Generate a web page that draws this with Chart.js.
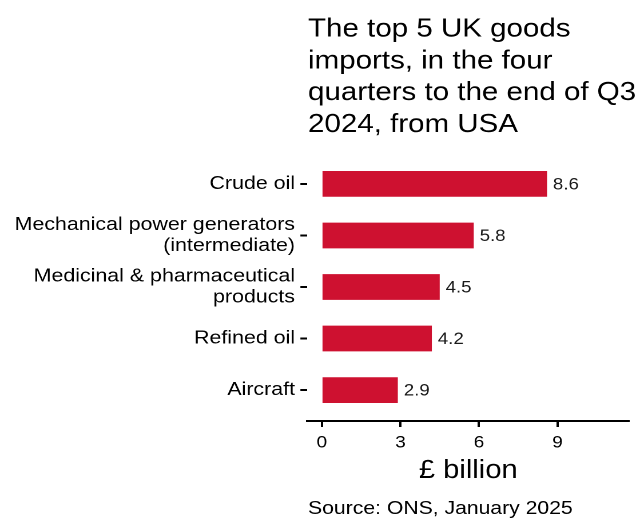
<!DOCTYPE html>
<html>
<head>
<meta charset="utf-8">
<script src="https://cdn.jsdelivr.net/npm/chart.js@4/dist/chart.umd.min.js"></script>
<style>
  html, body { margin: 0; padding: 0; background: #fff; overflow: hidden; }
  canvas { display: block; }
</style>
</head>
<body>
<!-- the reference is drawn slightly wide, so the canvas is stretched horizontally -->
<canvas id="chart" width="563" height="518" style="width:644px;height:518px"></canvas>
<script>
const titleLines = ['The top 5 UK goods', 'imports, in the four', 'quarters to the end of Q3', '2024, from USA'];
const categories = ['Crude oil', 'Mechanical power generators\n(intermediate)', 'Medicinal & pharmaceutical\nproducts', 'Refined oil', 'Aircraft'];
const values = [8.6, 5.8, 4.5, 4.2, 2.9];
const xTicks = [0, 3, 6, 9];
const xTitle = '£ billion';
const sourceText = 'Source: ONS, January 2025';

const FONT = '"Liberation Sans", Arial, sans-serif';
const barRed = '#ce1130';

// title, source and value labels
const extras = {
    id: 'extras',
    afterDraw(chart) {
        const ctx = chart.ctx;
        ctx.save();
        ctx.fillStyle = '#000';
        ctx.textAlign = 'left';
        ctx.textBaseline = 'alphabetic';
        ctx.font = '25.8px ' + FONT;
        titleLines.forEach((line, i) => {
            ctx.fillText(line, 269.3, 36.7 + i * 31.7);
        });
        ctx.font = '18.5px ' + FONT;
        ctx.fillText(sourceText, 269.3, 514);

        ctx.fillStyle = '#1a1a1a';
        ctx.font = '16.3px ' + FONT;
        ctx.textBaseline = 'middle';
        chart.getDatasetMeta(0).data.forEach((bar, i) => {
            ctx.fillText(values[i].toFixed(1), bar.x + 5.2, bar.y + 1);
        });
        ctx.restore();
    }
};

new Chart(document.getElementById('chart'), {
    type: 'bar',
    data: {
        datasets: [{
            data: values.map((v, i) => ({ x: v, y: i })),
            backgroundColor: barRed,
            borderWidth: 0,
            barPercentage: 0.5,
            categoryPercentage: 1
        }]
    },
    options: {
        indexAxis: 'y',
        responsive: false,
        animation: false,
        devicePixelRatio: 2,
        layout: {
            padding: { top: 153, right: 12.9, bottom: 27, left: 0 }
        },
        plugins: {
            legend: { display: false },
            tooltip: { enabled: false }
        },
        scales: {
            x: {
                type: 'linear',
                min: -0.56,
                max: 11.74,
                afterBuildTicks: function (scale) {
                    scale.ticks = xTicks.map(v => ({ value: v }));
                },
                afterFit: function (scale) {
                    scale.height = 70;
                },
                grid: {
                    drawOnChartArea: false,
                    tickLength: 6,
                    tickColor: '#000',
                    tickWidth: 2
                },
                border: { display: true, color: '#000', width: 2 },
                ticks: {
                    color: '#000',
                    padding: 6,
                    font: { family: FONT, size: 16.6 },
                    autoSkip: false,
                    maxRotation: 0
                },
                title: {
                    display: true,
                    text: xTitle,
                    color: '#000',
                    font: { family: FONT, size: 25.5, lineHeight: 1.2 },
                    padding: { top: 0, bottom: 4.7 }
                }
            },
            y: {
                type: 'linear',
                reverse: true,
                offset: false,
                min: -0.6,
                max: 4.6,
                afterBuildTicks: function (scale) {
                    scale.ticks = categories.map((c, i) => ({ value: i }));
                },
                afterFit: function (scale) {
                    scale.width = 268.6;
                },
                grid: {
                    offset: false,
                    drawOnChartArea: false,
                    tickLength: 6,
                    tickColor: '#000',
                    tickWidth: 2
                },
                border: { display: false },
                ticks: {
                    color: '#000',
                    padding: 4.7,
                    font: { family: FONT, size: 18.7, lineHeight: 1.12 },
                    autoSkip: false,
                    callback: function (value) {
                        const label = categories[value];
                        return label === undefined ? '' : label.split('\n');
                    }
                }
            }
        }
    },
    plugins: [extras]
});
</script>
</body>
</html>
